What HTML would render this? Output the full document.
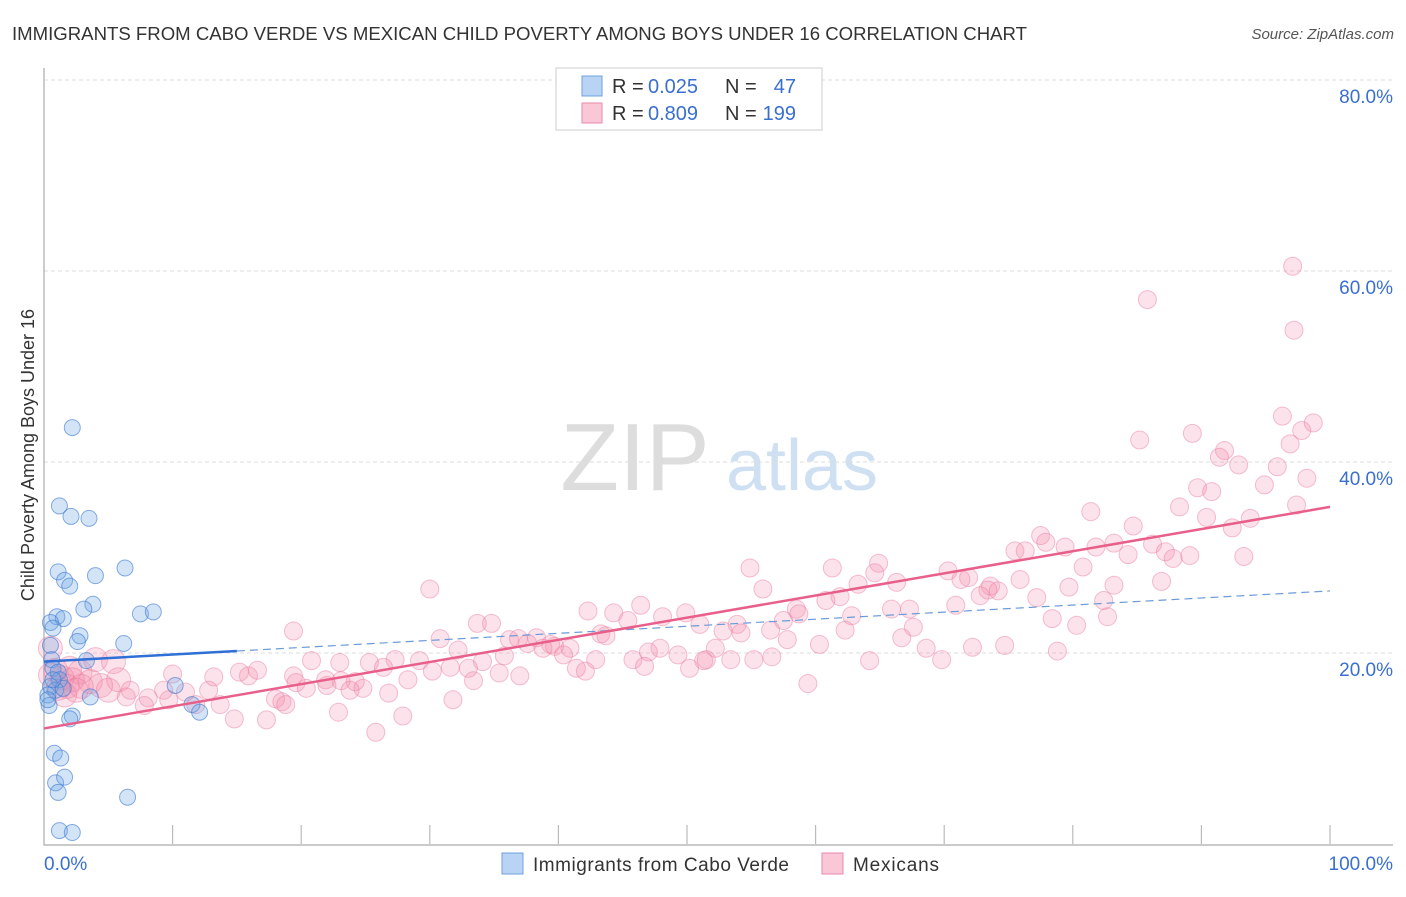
<!DOCTYPE html>
<html><head><meta charset="utf-8"><style>
body{margin:0;background:#fff;font-family:"Liberation Sans",sans-serif;}
svg text{font-family:"Liberation Sans",sans-serif;}
</style></head><body>
<svg id="chart" width="1406" height="892" viewBox="0 0 1406 892" xmlns="http://www.w3.org/2000/svg">
<text x="12" y="40" font-size="18" fill="#333" textLength="1015" lengthAdjust="spacingAndGlyphs">IMMIGRANTS FROM CABO VERDE VS MEXICAN CHILD POVERTY AMONG BOYS UNDER 16 CORRELATION CHART</text>
<text x="1394" y="39" font-size="15" fill="#555" font-style="italic" text-anchor="end">Source: ZipAtlas.com</text>
<g>
<text x="635" y="490" font-size="96" fill="#ddd" font-family="Liberation Serif,serif" text-anchor="middle">ZIP</text>
<text x="802" y="490" font-size="72" fill="#cfe0f3" text-anchor="middle">atlas</text>
</g>
<g id="grid"></g>
<g id="axes"></g>
<text transform="translate(34,455) rotate(-90)" font-size="18" fill="#333" text-anchor="middle">Child Poverty Among Boys Under 16</text>
<g id="marks"></g>
<g>
<rect x="556" y="68" width="266" height="62" fill="#fff" stroke="#ccc"/>
<rect x="582" y="76" width="20" height="20" fill="#b8d3f3" stroke="#6fa0e0"/>
<rect x="582" y="103" width="20" height="20" fill="#f9c7d6" stroke="#e88aa8"/>
<g font-size="20">
<text x="612" y="93" fill="#333">R =</text><text x="648" y="93" fill="#3a6fd0">0.025</text>
<text x="725" y="93" fill="#333">N =</text><text x="796" y="93" fill="#3a6fd0" text-anchor="end">47</text></g>
<g font-size="20">
<text x="612" y="120" fill="#333">R =</text><text x="648" y="120" fill="#3a6fd0">0.809</text>
<text x="725" y="120" fill="#333">N =</text><text x="796" y="120" fill="#3a6fd0" text-anchor="end">199</text></g>
</g>
<g>
<rect x="502" y="853" width="21" height="21" fill="#b8d3f3" stroke="#6fa0e0"/>
<text x="533" y="871" font-size="19" fill="#333" textLength="256">Immigrants from Cabo Verde</text>
<rect x="822" y="853" width="21" height="21" fill="#f9c7d6" stroke="#e88aa8"/>
<text x="853" y="871" font-size="19" fill="#333" textLength="86">Mexicans</text>
</g>
</svg>
<script>
const yTicks=[20,40,60,80];
const yTickLabels=["20.0%","40.0%","60.0%","80.0%"];
const xTicks=[0,10,20,30,40,50,60,70,80,90,100];
const xEndLabels=["0.0%","100.0%"];
const blueX=[2.2,1.2,2.1,3.5,1.1,1.6,2.0,4.0,6.3,3.8,3.1,7.5,8.5,1.0,1.5,0.5,0.7,2.8,2.6,6.2,0.5,0.6,3.3,0.7,1.1,1.2,0.5,0.9,1.5,0.3,3.6,10.2,11.5,12.1,0.4,2.2,2.0,0.8,1.3,0.9,1.6,1.1,6.5,1.2,2.2,0.3,0.7];
const blueY=[43.6,35.4,34.3,34.1,28.5,27.6,27.0,28.1,28.9,25.1,24.6,24.1,24.3,23.8,23.6,23.2,22.6,21.8,21.2,21.0,20.8,19.3,19.2,18.4,18.0,17.2,16.5,16.1,16.3,15.6,15.4,16.6,14.6,13.8,14.5,13.4,13.1,9.5,9.0,6.4,7.0,5.4,4.9,1.4,1.2,15.1,17.2];
const pinkX=[97.1,85.8,97.2,96.3,98.7,97.8,85.2,89.3,96.9,91.8,91.4,92.9,95.9,98.2,94.9,89.7,90.8,97.4,88.3,81.4,90.4,93.8,84.7,92.4,77.5,77.9,83.2,86.2,79.4,81.8,75.5,76.3,87.2,89.1,87.8,84.3,93.3,64.9,54.9,61.3,80.8,70.3,64.6,71.3,71.9,75.9,86.9,83.2,63.3,66.3,73.6,79.7,55.9,73.4,74.2,72.8,30.0,77.2,61.9,60.8,82.4,70.9,46.4,42.3,44.3,65.9,67.3,58.5,58.7,49.9,48.1,62.8,82.7,78.4,57.5,45.4,51.0,53.9,33.7,34.8,67.6,80.3,62.3,19.4,56.5,54.2,52.8,43.3,43.7,66.7,30.8,36.2,38.3,37.6,39.4,39.7,40.9,38.8,36.9,47.9,57.8,52.2,60.3,74.7,68.6,32.2,72.2,78.8,35.8,40.4,47.0,49.3,42.9,45.8,51.3,51.5,53.4,55.2,56.6,64.2,69.8,27.3,29.2,20.8,25.3,23.0,34.1,26.4,31.6,33.0,41.4,46.7,50.2,42.1,15.2,15.9,16.6,19.4,30.2,37.0,35.4,21.9,28.3,33.4,10.0,13.2,5.8,19.6,24.2,23.1,22.0,24.8,20.4,26.8,23.8,12.8,9.3,11.0,6.7,59.4,8.1,9.7,6.4,18.0,18.5,31.8,11.8,13.7,18.8,7.8,22.9,27.9,14.8,17.3,25.8,0.5,4.0,5.4,0.9,2.0,2.8,1.4,2.2,3.6,4.4,1.1,1.8,2.9,5.0,0.5,1.6,2.5];
const pinkY=[60.5,57.0,53.8,44.8,44.1,43.3,42.3,43.0,41.9,41.2,40.5,39.7,39.5,38.3,37.6,37.3,36.9,35.5,35.3,34.8,34.2,34.1,33.3,33.1,32.3,31.6,31.5,31.4,31.1,31.1,30.7,30.7,30.6,30.2,29.9,30.3,30.1,29.4,28.9,28.9,29.0,28.6,28.4,27.7,27.9,27.7,27.5,27.1,27.2,27.4,27.0,26.9,26.7,26.6,26.5,26.0,26.7,25.8,25.9,25.5,25.5,25.0,25.0,24.4,24.2,24.6,24.6,24.6,24.1,24.2,23.8,23.9,23.8,23.6,23.4,23.4,23.0,23.0,23.1,23.1,22.7,22.9,22.4,22.3,22.4,22.1,22.3,22.0,21.8,21.6,21.5,21.4,21.6,21.0,20.9,20.7,20.5,20.5,21.5,20.5,21.4,20.5,20.9,20.8,20.5,20.3,20.6,20.2,19.7,19.8,20.1,19.8,19.3,19.3,19.2,19.3,19.3,19.3,19.6,19.2,19.3,19.3,19.2,19.2,19.0,19.0,19.1,18.5,18.5,18.4,18.4,18.6,18.4,18.1,18.0,17.6,18.2,17.6,18.1,17.6,17.9,17.2,17.2,17.1,17.8,17.5,17.2,16.9,17.0,17.1,16.6,16.3,16.3,15.8,16.1,16.1,16.1,15.9,16.1,16.8,15.3,15.1,15.4,15.2,14.9,15.1,14.6,14.6,14.6,14.5,13.8,13.4,13.1,13.0,11.7,20.5,19.3,19.1,18.2,18.4,18.0,17.4,17.2,17.0,16.6,16.3,16.5,16.5,16.1,17.7,15.6,16.1];
const blueTrend=[19.1,26.5];   // value at x=0 and x=100
const blueSolidEnd=15;
const pinkTrend=[12.1,35.3];
const NS='http://www.w3.org/2000/svg';
const X0=44,X1=1330,Y0=844,PX=9.55;
function sx(v){return X0+(X1-X0)*v/100;}
function sy(v){return Y0-v*PX;}
function mk(tag,attrs,parent){const e=document.createElementNS(NS,tag);for(const k in attrs)e.setAttribute(k,attrs[k]);parent.appendChild(e);return e;}
const grid=document.getElementById('grid'),axes=document.getElementById('axes'),marks=document.getElementById('marks');
yTicks.forEach((t,i)=>{
 const l=mk('line',{x1:X0,x2:1393,y1:sy(t),y2:sy(t),stroke:'#ddd','stroke-dasharray':'4,3'},grid);
 
 
 const tx=mk('text',{x:1393,y:sy(t)+23,'font-size':19,fill:'#3a6fd0','text-anchor':'end'},grid);
 tx.textContent=yTickLabels[i];
 
 
});
const ax=mk('path',{d:`M${X0} 68 V${Y0+1} H1393`,stroke:'#aaa',fill:'none','stroke-width':1.2},axes);


xTicks.forEach(t=>{if(t===0)return;
 const l=mk('line',{x1:sx(t),x2:sx(t),y1:Y0-19,y2:Y0,stroke:'#bbb','stroke-width':1.2},axes);
 
 
});
[[0,'start',X0],[1,'end',1393]].forEach(([i,a,x])=>{
 const tx=mk('text',{x:x,y:870,'font-size':19,fill:'#3a6fd0','text-anchor':a},axes);
 tx.textContent=xEndLabels[i];
 
 
});
pinkX.forEach((x,i)=>{
 const big=x<6;
 const c=mk('circle',{cx:sx(x),cy:sy(pinkY[i]),r:big?12:9,fill:'rgba(242,140,170,0.25)',stroke:'rgba(232,120,155,0.45)','stroke-width':1},marks);
 
 
});
blueX.forEach((x,i)=>{
 const c=mk('circle',{cx:sx(x),cy:sy(blueY[i]),r:8,fill:'rgba(110,165,230,0.3)',stroke:'rgba(60,120,210,0.6)','stroke-width':1},marks);
 
 
});
function tv(tr,x){return tr[0]+(tr[1]-tr[0])*x/100;}
const bs=mk('line',{x1:sx(0),y1:sy(tv(blueTrend,0)),x2:sx(blueSolidEnd),y2:sy(tv(blueTrend,blueSolidEnd)),stroke:'#2f6fd6','stroke-width':2.5},marks);


const bd=mk('line',{x1:sx(blueSolidEnd),y1:sy(tv(blueTrend,blueSolidEnd)),x2:sx(100),y2:sy(tv(blueTrend,100)),stroke:'#6a9ad8','stroke-width':1.2,'stroke-dasharray':'8,5'},marks);


const pl=mk('line',{x1:sx(0),y1:sy(tv(pinkTrend,0)),x2:sx(100),y2:sy(tv(pinkTrend,100)),stroke:'#e8608a','stroke-width':2.5},marks);


</script>
</body></html>
